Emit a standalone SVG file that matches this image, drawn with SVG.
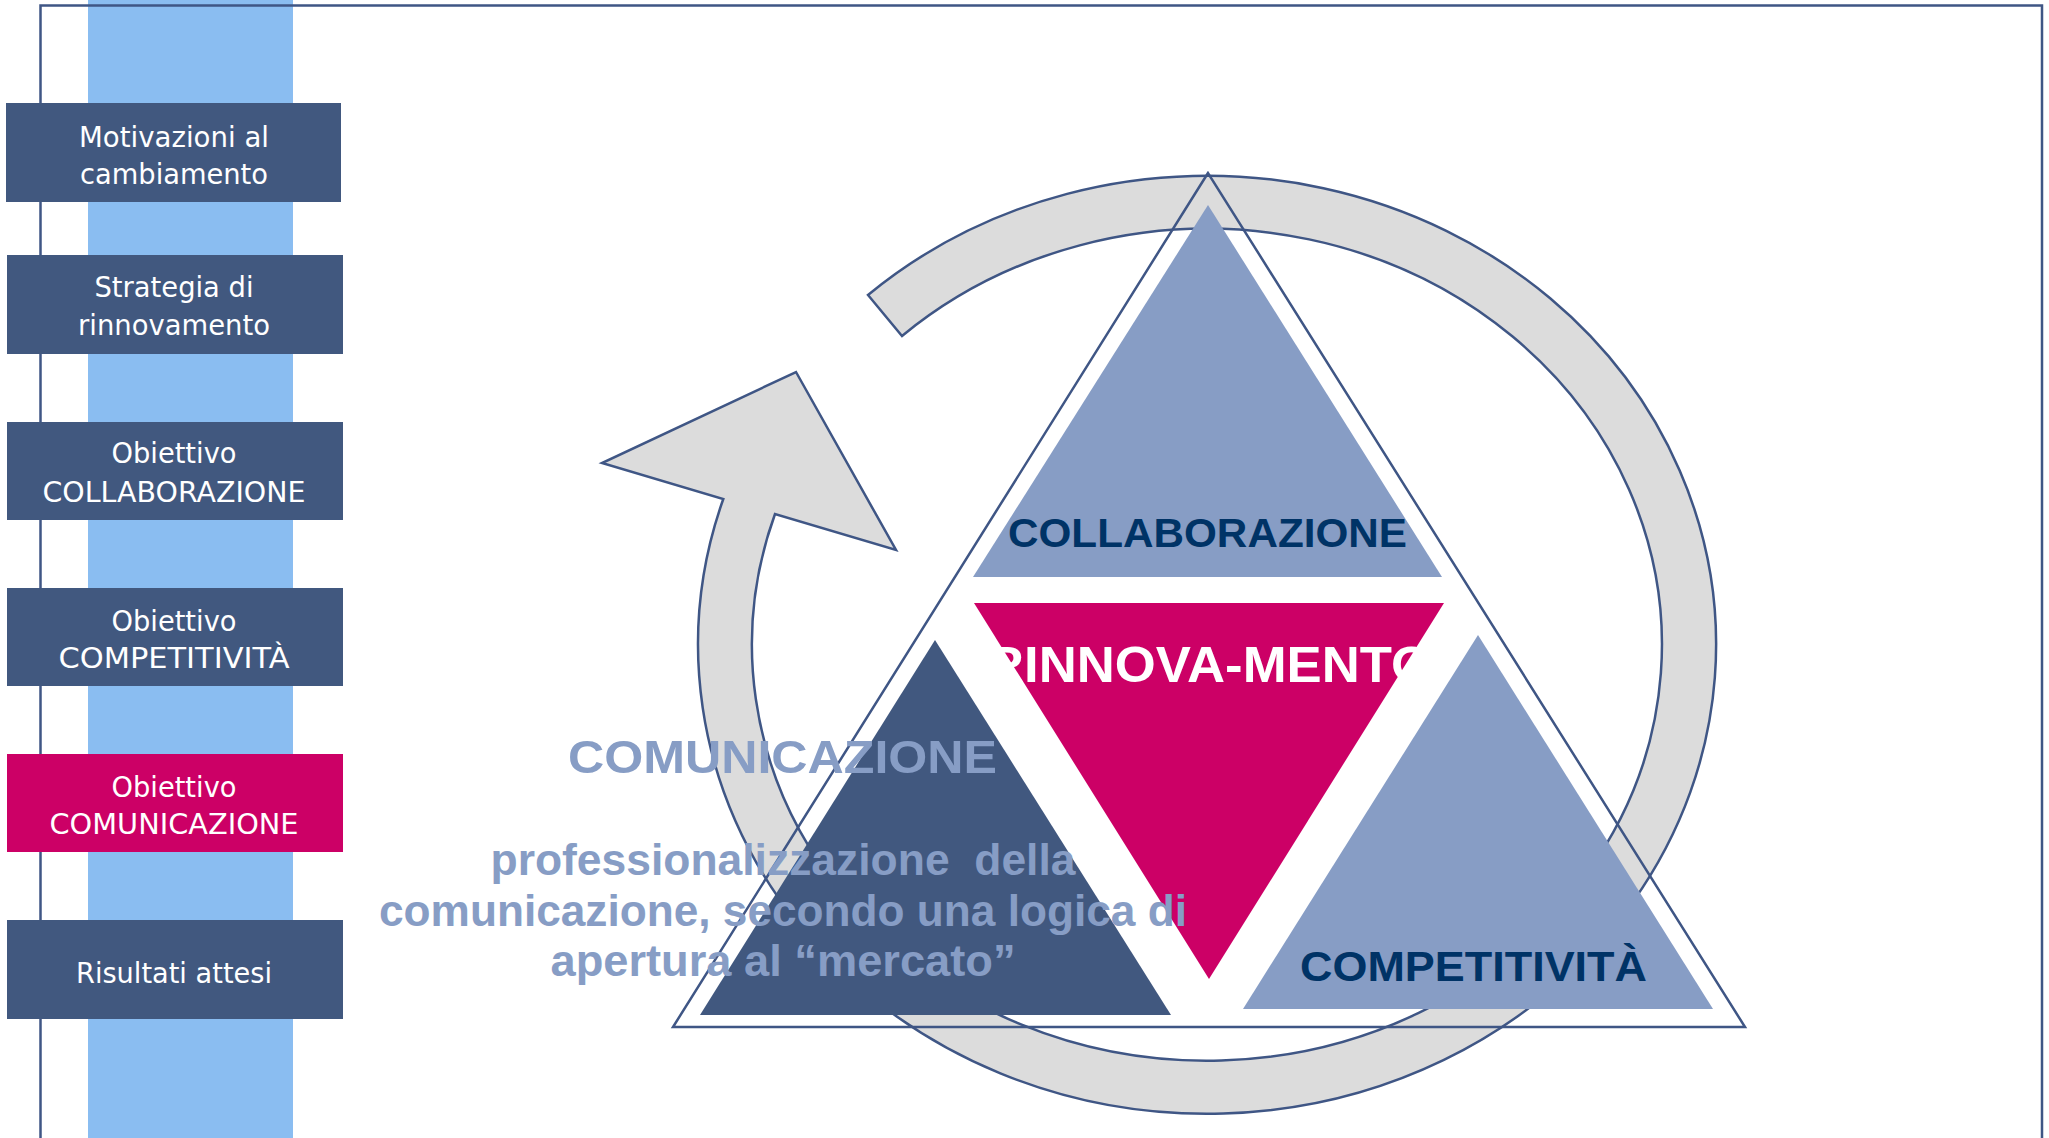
<svg xmlns="http://www.w3.org/2000/svg" width="2049" height="1138" viewBox="0 0 2049 1138">
<style>
.box{fill:#41587F}
.boxm{fill:#CC0066}
.bt{font-family:"DejaVu Sans","Liberation Sans",sans-serif;font-size:28px;fill:#FFFFFF;text-anchor:middle}
.frame{stroke:#3F5685;stroke-width:2.5;fill:none}
.lb{fill:#879DC5}
.lbl{font-family:"Liberation Sans",Arial,sans-serif;font-weight:bold;text-anchor:middle}
.navy{fill:#003366}
.para{fill:#879DC5;font-family:"Liberation Sans",Arial,sans-serif;font-weight:bold;font-size:44px;text-anchor:middle}
</style>
<rect x="0" y="0" width="2049" height="1138" fill="#FFFFFF"/>
<rect id="column" x="88" y="0" width="205" height="1138" fill="#8ABDF1"/>
<g id="frame">
<polyline class="frame" points="40.5,1138 40.5,5.5 2042,5.5 2042,1138"/>
</g>
<g id="box-motivazioni">
<rect class="box" x="6" y="103" width="335" height="99"/>
<text class="bt" x="174" y="147" textLength="190" lengthAdjust="spacingAndGlyphs">Motivazioni al</text>
<text class="bt" x="174" y="184" textLength="188" lengthAdjust="spacingAndGlyphs">cambiamento</text>
</g>
<g id="box-strategia">
<rect class="box" x="7" y="255" width="336" height="99"/>
<text class="bt" x="174" y="297" textLength="159" lengthAdjust="spacingAndGlyphs">Strategia di</text>
<text class="bt" x="174" y="335" textLength="192" lengthAdjust="spacingAndGlyphs">rinnovamento</text>
</g>
<g id="box-collaborazione">
<rect class="box" x="7" y="422" width="336" height="98"/>
<text class="bt" x="174" y="463" textLength="125" lengthAdjust="spacingAndGlyphs">Obiettivo</text>
<text class="bt" x="174" y="502" textLength="263" lengthAdjust="spacingAndGlyphs">COLLABORAZIONE</text>
</g>
<g id="box-competitivita">
<rect class="box" x="7" y="588" width="336" height="98"/>
<text class="bt" x="174" y="631" textLength="125" lengthAdjust="spacingAndGlyphs">Obiettivo</text>
<text class="bt" x="174" y="668" textLength="231" lengthAdjust="spacingAndGlyphs">COMPETITIVITÀ</text>
</g>
<g id="box-comunicazione">
<rect class="boxm" x="7" y="754" width="336" height="98"/>
<text class="bt" x="174" y="797" textLength="125" lengthAdjust="spacingAndGlyphs">Obiettivo</text>
<text class="bt" x="174" y="834" textLength="249" lengthAdjust="spacingAndGlyphs">COMUNICAZIONE</text>
</g>
<g id="box-risultati">
<rect class="box" x="7" y="920" width="336" height="99"/>
<text class="bt" x="174" y="983" textLength="196" lengthAdjust="spacingAndGlyphs">Risultati attesi</text>
</g>
<g id="connectors">
<path id="cycle-arrow" d="M 868 295 A 509 469 0 1 1 723.3 499 L 602 463 L 796 372 L 896 550 L 775 514 A 455 416 0 1 0 902 336 Z" fill="#DCDCDC" stroke="#3F5685" stroke-width="2.5" stroke-linejoin="miter"/>
</g>
<g id="tri-collaborazione">
<polygon class="lb" points="1208,205 973,577 1442,577"/>
<text class="lbl navy" x="1207.5" y="547" font-size="41" textLength="399" lengthAdjust="spacingAndGlyphs">COLLABORAZIONE</text>
</g>
<g id="tri-rinnovamento">
<polygon points="974,603 1444,603 1209,979" fill="#CC0066"/>
<text class="lbl" x="1209" y="682" font-size="50" fill="#FFFFFF" textLength="446" lengthAdjust="spacingAndGlyphs">RINNOVA-MENTO</text>
</g>
<g id="tri-comunicazione">
<polygon points="935,640 700,1015 1171,1015" fill="#41587F"/>
</g>
<g id="tri-competitivita">
<polygon class="lb" points="1478,635 1243,1009 1713,1009"/>
<text class="lbl navy" x="1473.5" y="981" font-size="43" textLength="347" lengthAdjust="spacingAndGlyphs">COMPETITIVITÀ</text>
</g>
<g id="outline-triangle">
<polygon points="1208,173 673,1027 1745,1027" fill="none" stroke="#3F5685" stroke-width="2.5"/>
</g>
<g id="comunicazione-text">
<text class="lbl" x="782.5" y="773" font-size="47" fill="#879DC5" textLength="429" lengthAdjust="spacingAndGlyphs">COMUNICAZIONE</text>
<text class="para" x="783" y="875" textLength="585" lengthAdjust="spacingAndGlyphs" xml:space="preserve">professionalizzazione  della</text>
<text class="para" x="783" y="926" textLength="808" lengthAdjust="spacingAndGlyphs">comunicazione, secondo una logica di</text>
<text class="para" x="783" y="976" textLength="465" lengthAdjust="spacingAndGlyphs">apertura al “mercato”</text>
</g>
</svg>
